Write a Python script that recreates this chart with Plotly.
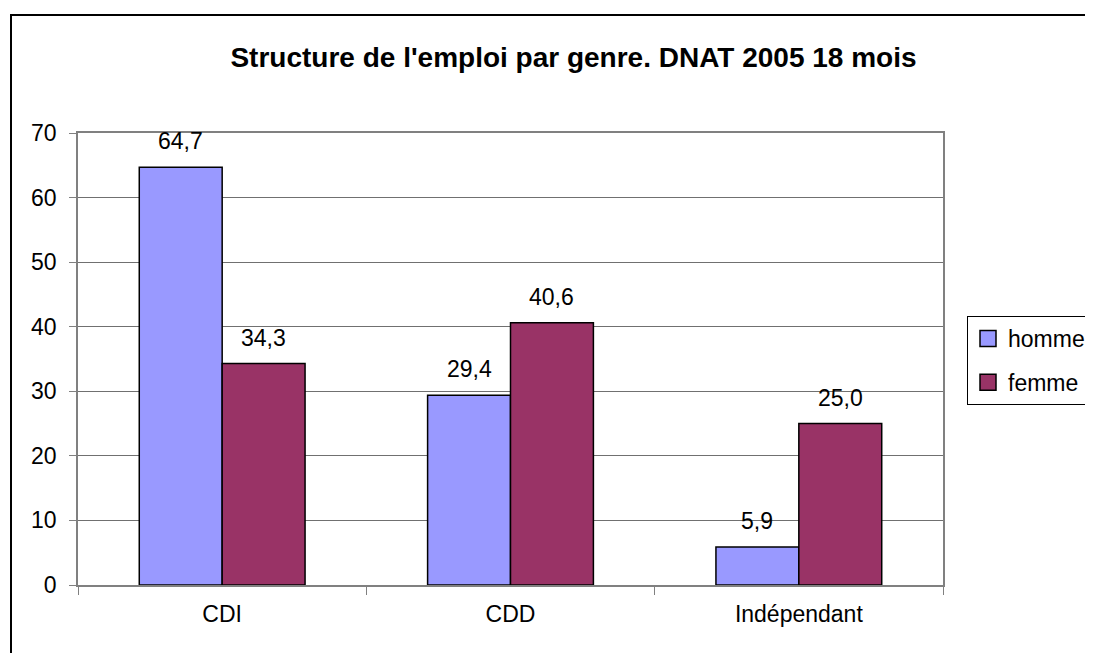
import plotly.graph_objects as go

# データ
categories = ['CDI', 'CDD', 'Indépendant']
homme = [64.7, 29.4, 5.9]
femme = [34.3, 40.6, 25.0]
series_names = ['homme', 'femme']

COLORS = {'homme': '#9999FF', 'femme': '#993366'}
FONT = 'Arial, Liberation Sans, sans-serif'

W, H = 1093, 653
OFF = 8  # marge par défaut du <body> dans la page HTML
L, R, T, B = 78 - OFF, 943 - OFF, 133 - OFF, 585 - OFF  # zone de tracé (px)
BARGAP = 0.425

pw, ph = R - L, B - T


def px2paper_x(px):
    return (px - OFF - L) / pw


def px2paper_y(py):
    return (B - (py - OFF)) / ph


fig = go.Figure()
series = [homme, femme]
for name, vals in zip(series_names, series):
    fig.add_trace(go.Bar(
        x=categories, y=vals, name=name, showlegend=False,
        marker=dict(color=COLORS[name], line=dict(color='black', width=1.5)),
    ))
    # entrée de légende avec un carré plus grand (le cadre déborde à droite comme l'original)
    fig.add_trace(go.Scatter(
        x=[None], y=[None], mode='markers', name=name + '\u00a0' * 4, legendgroup=name,
        marker=dict(symbol='square', size=17, color=COLORS[name],
                    line=dict(color='black', width=1.5)),
    ))

# étiquettes de valeurs au-dessus des barres
bar_w = pw / len(categories) * (1 - BARGAP) / len(series)
for i, vals in enumerate(series):
    shift = (i - (len(series) - 1) / 2) * bar_w
    for cat, v in zip(categories, vals):
        fig.add_annotation(
            x=cat, y=v, text=f'{v:.1f}'.replace('.', ','), showarrow=False,
            xshift=shift, yshift=26, yanchor='middle',
            font=dict(size=23, family=FONT, color='black'),
        )

fig.update_layout(
    width=W, height=H,
    margin=dict(l=L, r=W - R, t=T, b=H - B, autoexpand=False),
    paper_bgcolor='white', plot_bgcolor='white',
    separators=', ',
    barmode='group', bargap=BARGAP, bargroupgap=0,
    font=dict(family=FONT, size=23, color='black'),
    title=dict(text="<b>Structure de l'emploi par genre. DNAT 2005 18 mois</b>",
               x=(573.5 - OFF) / W, xanchor='center',
               y=1 - (57 - OFF) / H, yanchor='middle',
               font=dict(size=28, family=FONT, color='black')),
    legend=dict(x=px2paper_x(967), xanchor='left', y=px2paper_y(316), yanchor='top',
                bordercolor='black', borderwidth=1, bgcolor='white',
                font=dict(size=23, family=FONT), itemwidth=30,
                traceorder='grouped', tracegroupgap=11),
    showlegend=True,
    xaxis=dict(showline=True, linecolor='#808080', linewidth=1.5, mirror=True,
               ticks='outside', ticklen=8, tickcolor='#808080', tickson='boundaries',
               ticklabelstandoff=8, tickfont=dict(size=23), showgrid=False),
    yaxis=dict(range=[0, 70], dtick=10, showline=True, linecolor='#808080', linewidth=1.5,
               mirror=True, ticks='outside', ticklen=7, tickcolor='#808080',
               ticklabelstandoff=8, gridcolor='#707070', gridwidth=1,
               tickfont=dict(size=23), zeroline=False),
    shapes=[dict(type='rect', xref='paper', yref='paper',
                 x0=px2paper_x(11), x1=px2paper_x(1120),
                 y0=px2paper_y(680), y1=px2paper_y(15),
                 line=dict(color='black', width=2), layer='below')],
)

fig.write_html('out.html')
